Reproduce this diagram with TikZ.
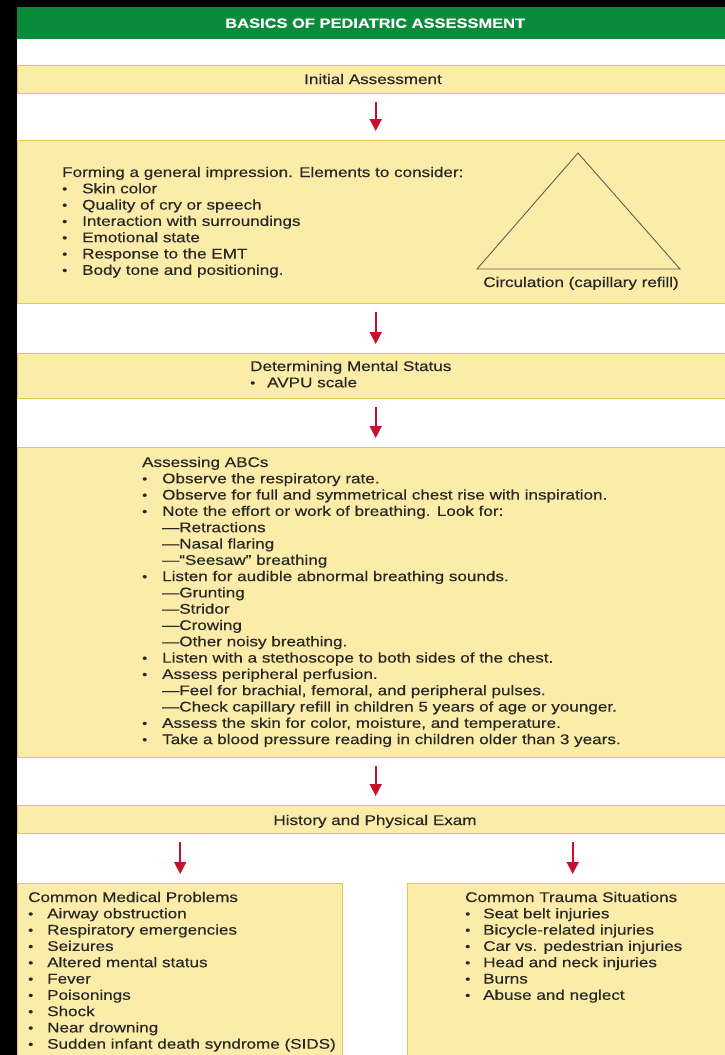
\documentclass[tikz,border=0pt]{standalone}
\usepackage{fontspec}
\setmainfont{Liberation Sans}[FakeStretch=1.22, FakeBold=0.4]
\usepackage{graphicx}
\usetikzlibrary{arrows.meta}
\definecolor{hdrgreen}{RGB}{12,138,60}
\definecolor{bandfill}{RGB}{252,236,170}
\definecolor{bandline}{RGB}{232,198,78}
\definecolor{arrred}{RGB}{200,16,46}
\definecolor{txtcol}{RGB}{40,40,36}
\definecolor{triline}{RGB}{100,95,75}
\newlength\bulw
\newcommand\bitem[1]{\makebox[\bulw][l]{\raisebox{0.4pt}{\scalebox{0.85}{\textbullet}}}#1}
\newcommand\dline[1]{\makebox[\bulw]{}—#1}
\tikzset{
  bandbox/.style={draw=bandline, line width=1.4pt, fill=bandfill, anchor=north west, inner sep=0pt, minimum width=716pt},
  txtn/.style={anchor=base west, inner sep=0pt, text=txtcol, font=\fontsize{14}{16.3}\selectfont},
  flow/.style={draw=arrred, line width=1.6pt, -{Triangle[width=12pt,length=12pt]}, shorten <=8pt, shorten >=9pt},
  tri/.style={draw=triline, line width=0.9pt, line join=miter}
}
\begin{document}
\begin{tikzpicture}[x=1pt,y=1pt]
\useasboundingbox (0,0) rectangle (725,-1055);
\clip (0,0) rectangle (725,-1055);
\fill[black] (0,0) rectangle (725,-1055);
\fill[white] (17,-7) rectangle (725,-1055);
% header
\node[fill=hdrgreen, anchor=north west, inner sep=0pt, minimum width=716pt, minimum height=32pt,
      text=white, font=\fontsize{13.5}{16}\selectfont\bfseries] (title) at (17,-7) {BASICS OF PEDIATRIC ASSESSMENT};
% bands
\node[bandbox, minimum height=28pt] (init) at (17,-65) {};
\node[bandbox, minimum height=163pt] (gen) at (17,-140) {};
\node[bandbox, minimum height=45pt] (mental) at (17,-353) {};
\node[bandbox, minimum height=310pt] (abc) at (17,-447) {};
\node[bandbox, minimum height=28pt] (hist) at (17,-805) {};
\node[bandbox, minimum width=325pt, minimum height=185pt] (med) at (17,-883) {};
\node[bandbox, minimum width=330pt, minimum height=185pt] (trauma) at (407,-883) {};
% texts
\node[txtn, anchor=base] (initT) at (373,-84) {Initial Assessment};
\node[txtn] (genT) at (62,-177) {\parbox[t]{420pt}{\setlength\bulw{20pt}%
Forming a general impression. Elements to consider:\\
\bitem{Skin color}\\
\bitem{Quality of cry or speech}\\
\bitem{Interaction with surroundings}\\
\bitem{Emotional state}\\
\bitem{Response to the EMT}\\
\bitem{Body tone and positioning.}}};
\coordinate (apex) at (578,-153);
\coordinate (bl) at (477,-269);
\coordinate (br) at (680,-269);
\draw[tri] (apex) -- (bl) -- (br) -- cycle;
\node[txtn, anchor=base] (circ) at (581,-287) {Circulation (capillary refill)};
\node[txtn] (mentalT) at (250,-371) {\parbox[t]{300pt}{\setlength\bulw{17pt}%
Determining Mental Status\\
\bitem{AVPU scale}}};
\node[txtn] (abcT) at (142,-467) {\parbox[t]{560pt}{\setlength\bulw{20pt}%
Assessing ABCs\\
\bitem{Observe the respiratory rate.}\\
\bitem{Observe for full and symmetrical chest rise with inspiration.}\\
\bitem{Note the effort or work of breathing. Look for:}\\
\dline{Retractions}\\
\dline{Nasal flaring}\\
\dline{“Seesaw” breathing}\\
\bitem{Listen for audible abnormal breathing sounds.}\\
\dline{Grunting}\\
\dline{Stridor}\\
\dline{Crowing}\\
\dline{Other noisy breathing.}\\
\bitem{Listen with a stethoscope to both sides of the chest.}\\
\bitem{Assess peripheral perfusion.}\\
\dline{Feel for brachial, femoral, and peripheral pulses.}\\
\dline{Check capillary refill in children 5 years of age or younger.}\\
\bitem{Assess the skin for color, moisture, and temperature.}\\
\bitem{Take a blood pressure reading in children older than 3 years.}}};
\node[txtn, anchor=base] (histT) at (375,-825) {History and Physical Exam};
\node[txtn] (medT) at (28,-902) {\parbox[t]{400pt}{\setlength\bulw{19pt}%
Common Medical Problems\\
\bitem{Airway obstruction}\\
\bitem{Respiratory emergencies}\\
\bitem{Seizures}\\
\bitem{Altered mental status}\\
\bitem{Fever}\\
\bitem{Poisonings}\\
\bitem{Shock}\\
\bitem{Near drowning}\\
\bitem{Sudden infant death syndrome (SIDS)}}};
\node[txtn] (traumaT) at (465,-902) {\parbox[t]{300pt}{\setlength\bulw{18pt}%
Common Trauma Situations\\
\bitem{Seat belt injuries}\\
\bitem{Bicycle-related injuries}\\
\bitem{Car vs. pedestrian injuries}\\
\bitem{Head and neck injuries}\\
\bitem{Burns}\\
\bitem{Abuse and neglect}}};
% connectors
\draw[flow] (init.south) -- (gen.north);
\draw[flow] (gen.south) -- (mental.north);
\draw[flow] (mental.south) -- (abc.north);
\draw[flow] (abc.south) -- (hist.north);
\draw[flow] (hist.south -| med.north) -- (med.north);
\draw[flow] (hist.south -| trauma.north) -- (trauma.north);
\end{tikzpicture}
\end{document}
